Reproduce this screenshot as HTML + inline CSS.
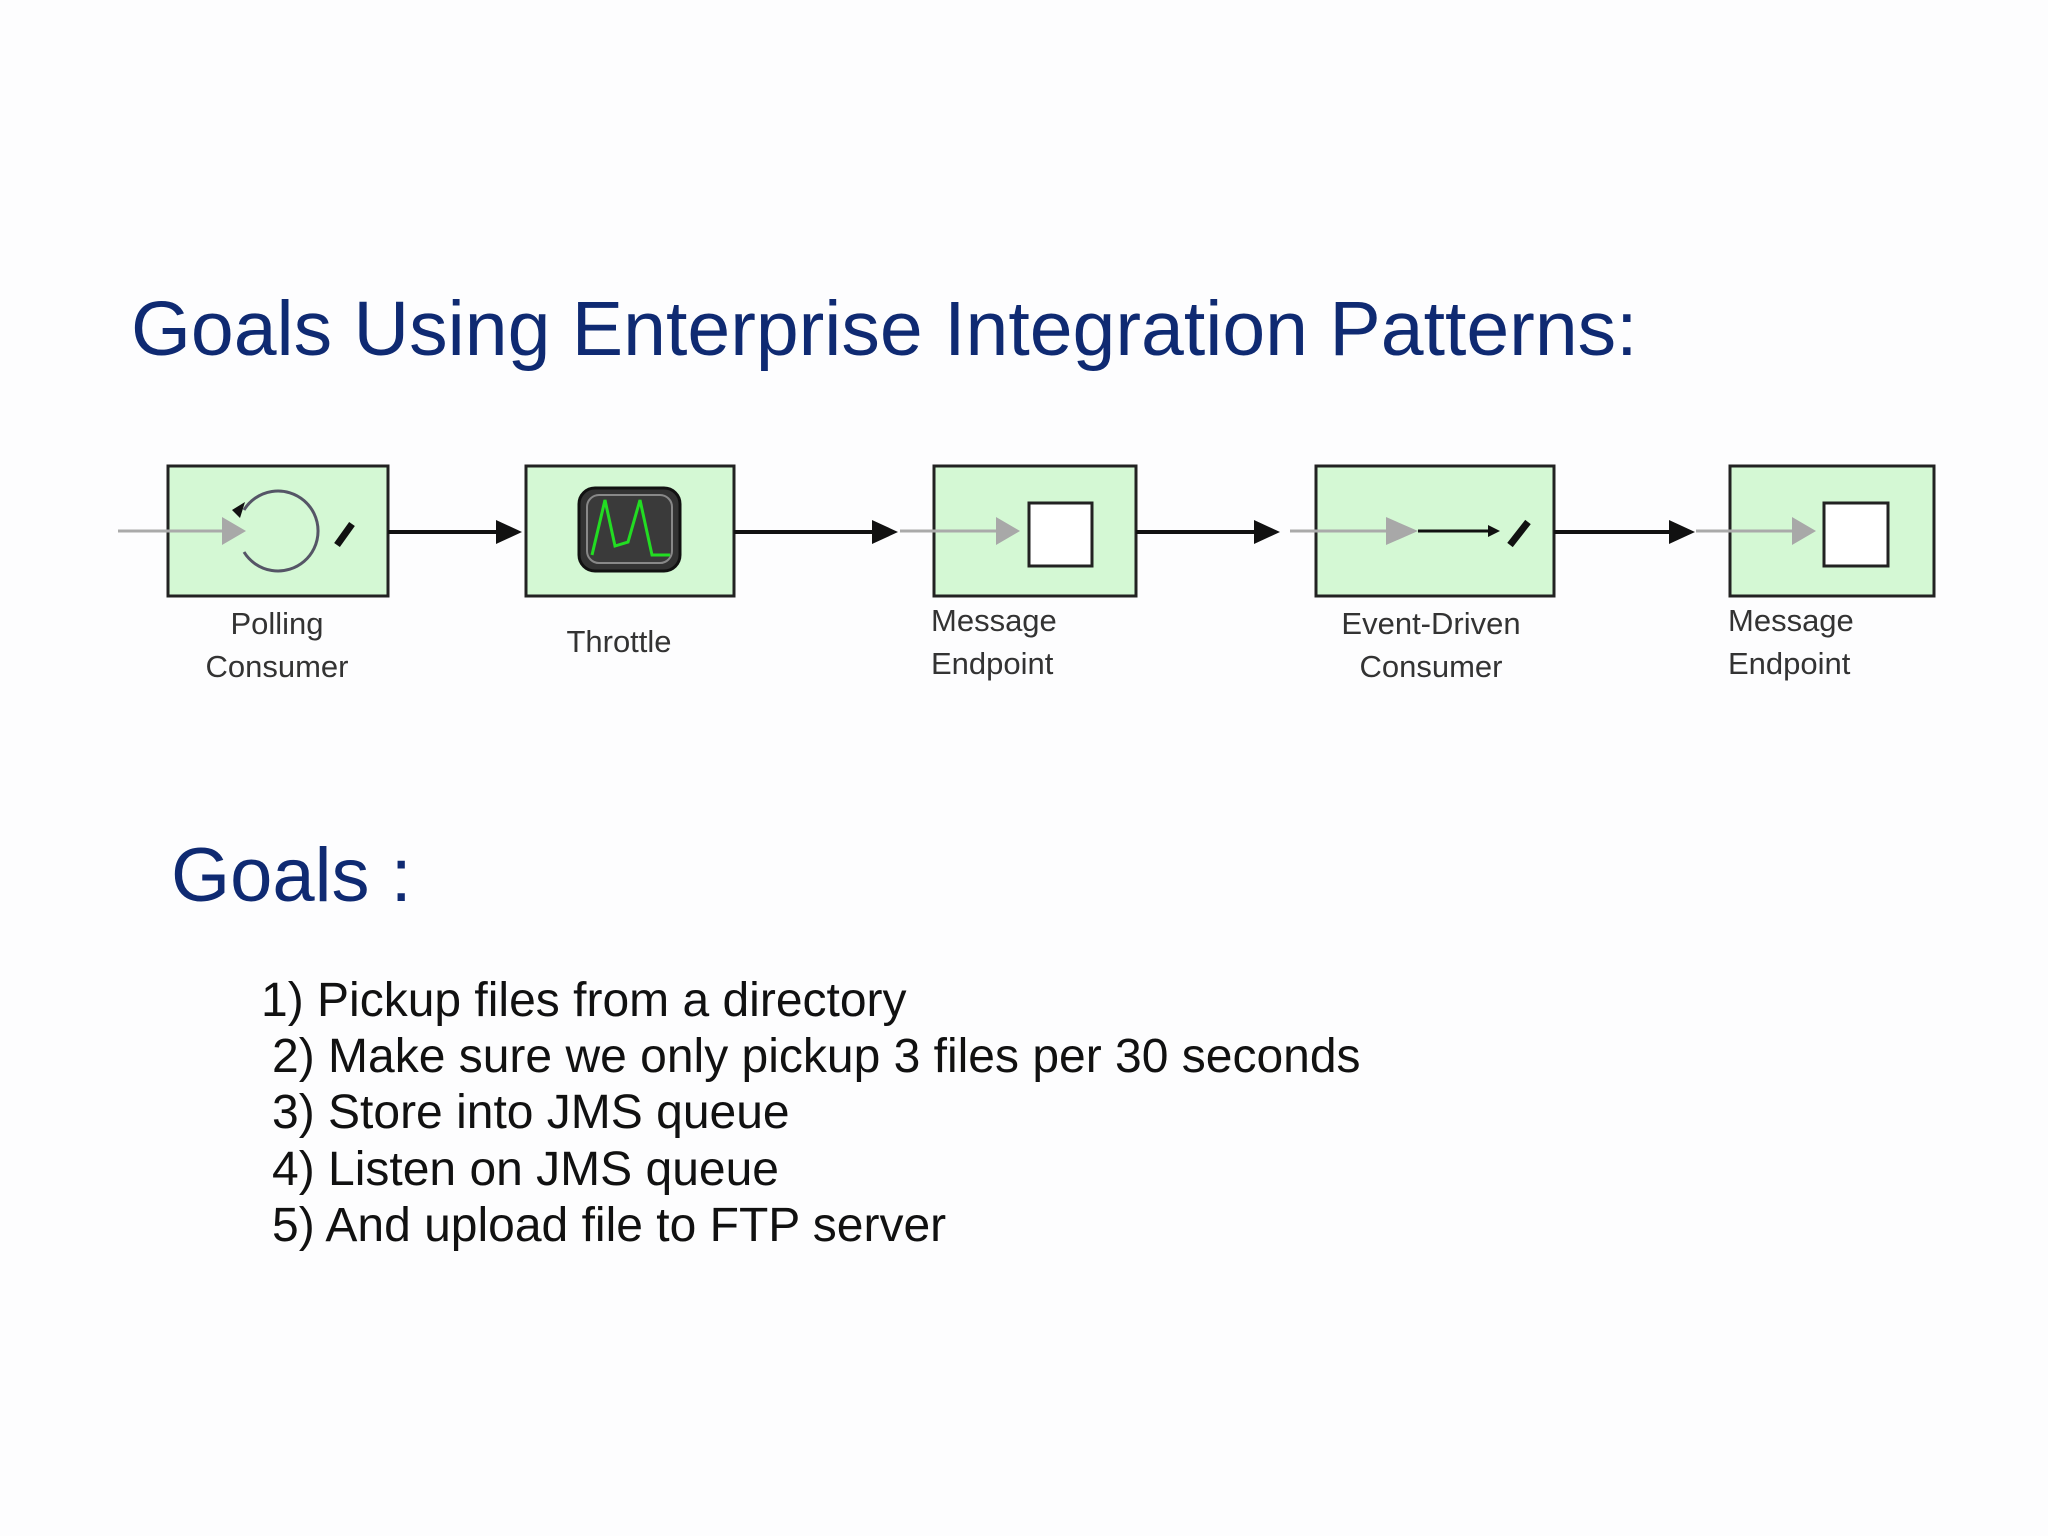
<!DOCTYPE html>
<html><head><meta charset="utf-8"><style>
html,body{margin:0;padding:0;background:#fdfdfe;}
svg{display:block}
</style></head><body>
<svg width="2048" height="1536" viewBox="0 0 2048 1536" xmlns="http://www.w3.org/2000/svg">
<rect width="2048" height="1536" fill="#fdfdfe"/>
<text x="131" y="355" font-family="Liberation Sans, sans-serif" font-size="77" fill="#0f2a72">Goals Using Enterprise Integration Patterns:</text>
<g fill="#d4f8d4" stroke="#222" stroke-width="3">
<rect x="168" y="466" width="220" height="130"/>
<rect x="526" y="466" width="208" height="130"/>
<rect x="934" y="466" width="202" height="130"/>
<rect x="1316" y="466" width="238" height="130"/>
<rect x="1730" y="466" width="204" height="130"/>
</g>
<g stroke="#111" stroke-width="4">
<line x1="388" y1="532" x2="500" y2="532"/>
<line x1="734" y1="532" x2="876" y2="532"/>
<line x1="1136" y1="532" x2="1258" y2="532"/>
<line x1="1554" y1="532" x2="1673" y2="532"/>
</g>
<g fill="#111">
<polygon points="522,532 496,520 496,544"/>
<polygon points="898,532 872,520 872,544"/>
<polygon points="1280,532 1254,520 1254,544"/>
<polygon points="1695,532 1669,520 1669,544"/>
</g>
<g stroke="#aaa" stroke-width="3">
<line x1="118" y1="531" x2="225" y2="531"/>
<line x1="900" y1="531" x2="1000" y2="531"/>
<line x1="1290" y1="531" x2="1390" y2="531"/>
<line x1="1696" y1="531" x2="1795" y2="531"/>
</g>
<g fill="#a8a8a8">
<polygon points="246,531 222,517 222,545"/>
<polygon points="1020,531 996,517 996,545"/>
<polygon points="1418,531 1386,517 1386,545"/>
<polygon points="1816,531 1792,517 1792,545"/>
</g>
<path d="M244,510 A40,40 0 1 1 244,552" fill="none" stroke="#556" stroke-width="3"/>
<polygon points="232,510 245,502 240,518" fill="#111"/>
<line x1="337" y1="545" x2="352" y2="524" stroke="#111" stroke-width="7"/>
<rect x="579" y="488" width="101" height="83" rx="16" fill="#333" stroke="#111" stroke-width="3"/>
<rect x="587" y="495" width="85" height="68" rx="12" fill="#3a3a3a" stroke="#888" stroke-width="2"/>
<polyline points="592,555 605,500 615,546 628,542 640,500 652,555 670,555" fill="none" stroke="#22dd22" stroke-width="3"/>
<rect x="1029" y="503" width="63" height="63" fill="#fff" stroke="#222" stroke-width="3"/>
<rect x="1824" y="503" width="64" height="63" fill="#fff" stroke="#222" stroke-width="3"/>
<line x1="1418" y1="531" x2="1490" y2="531" stroke="#111" stroke-width="3"/>
<polygon points="1500,531 1488,525 1488,537" fill="#111"/>
<line x1="1510" y1="545" x2="1528" y2="522" stroke="#111" stroke-width="7"/>
<g font-family="Liberation Sans, sans-serif" font-size="31" fill="#333">
<text x="277" y="634" text-anchor="middle">Polling</text>
<text x="277" y="677" text-anchor="middle">Consumer</text>
<text x="619" y="652" text-anchor="middle">Throttle</text>
<text x="931" y="631">Message</text>
<text x="931" y="674">Endpoint</text>
<text x="1431" y="634" text-anchor="middle">Event-Driven</text>
<text x="1431" y="677" text-anchor="middle">Consumer</text>
<text x="1728" y="631">Message</text>
<text x="1728" y="674">Endpoint</text>
</g>
<text x="171" y="901" font-family="Liberation Sans, sans-serif" font-size="76" fill="#0f2a72">Goals :</text>
<g font-family="Liberation Sans, sans-serif" font-size="48" fill="#111">
<text x="261" y="1016">1) Pickup files from a directory</text>
<text x="272" y="1072">2) Make sure we only pickup 3 files per 30 seconds</text>
<text x="272" y="1128">3) Store into JMS queue</text>
<text x="272" y="1185">4) Listen on JMS queue</text>
<text x="272" y="1241">5) And upload file to FTP server</text>
</g>
</svg>
</body></html>
